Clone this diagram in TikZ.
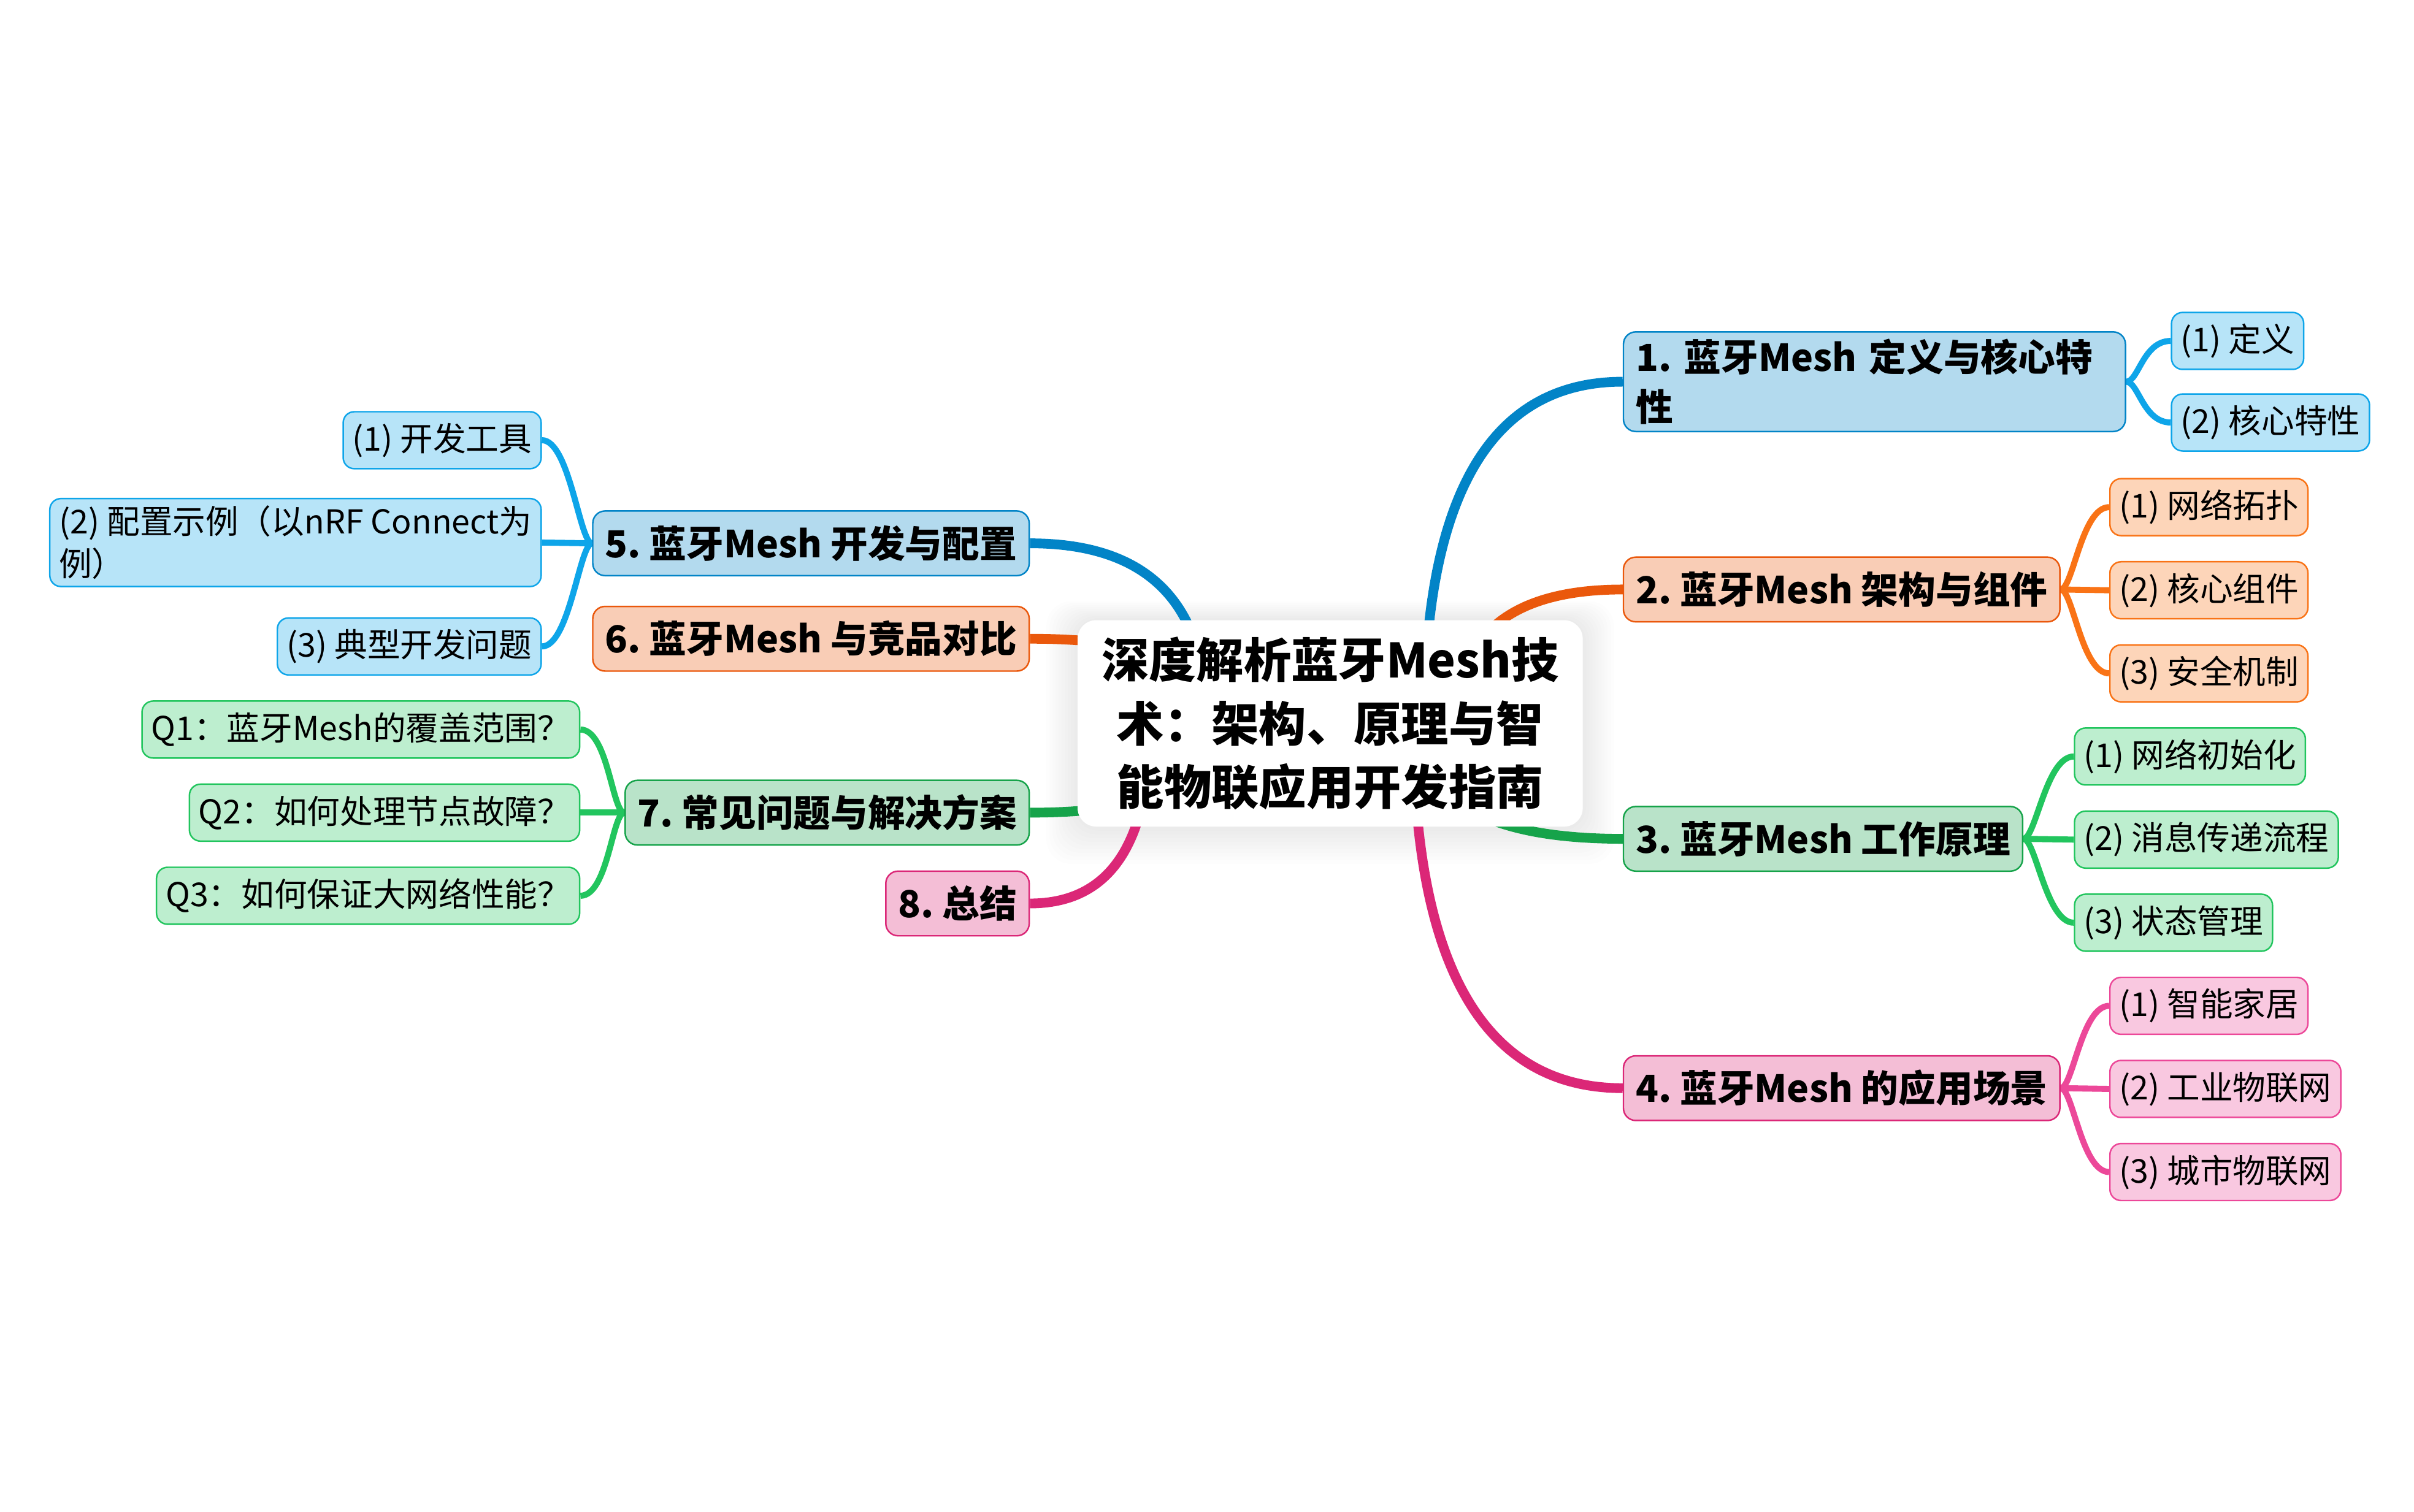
\documentclass[tikz,border=0pt]{standalone}
\usepackage{fontspec}
\setmainfont{Noto Sans CJK SC}
\usepackage{xcolor}
\usepackage{tikz}
\usetikzlibrary{positioning,calc,backgrounds}
\definecolor{sky_dark}{RGB}{2,132,199}
\definecolor{sky_light}{RGB}{14,165,233}
\definecolor{orange_dark}{RGB}{234,88,12}
\definecolor{orange_light}{RGB}{249,115,22}
\definecolor{green_dark}{RGB}{22,163,74}
\definecolor{green_light}{RGB}{34,197,94}
\definecolor{pink_dark}{RGB}{219,39,119}
\definecolor{pink_light}{RGB}{236,72,153}
\frenchspacing

\tikzset{
  rootbox/.style={fill=white, rounded corners=0.3cm, minimum width=8.2cm,
    minimum height=3.35cm, align=center,
    font=\fontsize{21.9}{29.2}\selectfont\bfseries},
  topic/.style={draw=#1, fill=#1!30, line width=0.7pt, rounded corners=0.2cm,
    inner xsep=0.2cm, minimum height=1.05cm, align=left,
    font=\fontsize{17.2}{22.8}\selectfont\bfseries},
  subbox/.style={draw=#1, fill=#1!30, line width=0.7pt, rounded corners=0.18cm,
    inner xsep=0.15cm, minimum height=0.925cm, align=left,
    font=\fontsize{15.2}{19.5}\selectfont},
  trunk/.style={draw=#1, line width=4.5pt},
  twig/.style={draw=#1, line width=2.8pt},
}

\begin{document}
\begin{tikzpicture}[x=0.025cm, y=-0.025cm]
  \useasboundingbox (0,0) rectangle (1568,982);

  % centre
  \node[rootbox] (root) at (864,470)
    {深度解析蓝牙Mesh技\\术：架构、原理与智\\能物联应用开发指南};

  % right side
  \node[topic=sky_dark, anchor=west, text width=7.75cm] (def) at (1054,248) {1. 蓝牙Mesh 定义与核心特\\性};
  \node[subbox=sky_light, anchor=west] (def_a) at (1410,221.5) {(1) 定义};
  \node[subbox=sky_light, anchor=west] (def_b) at (1410,274.5) {(2) 核心特性};

  \node[topic=orange_dark, anchor=west] (arch) at (1054,383) {2. 蓝牙Mesh 架构与组件};
  \node[subbox=orange_light, anchor=west] (arch_a) at (1370,329.5) {(1) 网络拓扑};
  \node[subbox=orange_light, anchor=west] (arch_b) at (1370,383.5) {(2) 核心组件};
  \node[subbox=orange_light, anchor=west] (arch_c) at (1370,437.5) {(3) 安全机制};

  \node[topic=green_dark, anchor=west] (work) at (1054,545) {3. 蓝牙Mesh 工作原理};
  \node[subbox=green_light, anchor=west] (work_a) at (1347,491.5) {(1) 网络初始化};
  \node[subbox=green_light, anchor=west] (work_b) at (1347,545.5) {(2) 消息传递流程};
  \node[subbox=green_light, anchor=west] (work_c) at (1347,599.5) {(3) 状态管理};

  \node[topic=pink_dark, anchor=west] (app) at (1054,707) {4. 蓝牙Mesh 的应用场景};
  \node[subbox=pink_light, anchor=west] (app_a) at (1370,653.5) {(1) 智能家居};
  \node[subbox=pink_light, anchor=west] (app_b) at (1370,707.5) {(2) 工业物联网};
  \node[subbox=pink_light, anchor=west] (app_c) at (1370,761.5) {(3) 城市物联网};

  % left side
  \node[topic=sky_dark, anchor=east] (dev) at (669,353) {5. 蓝牙Mesh 开发与配置};
  \node[subbox=sky_light, anchor=east] (dev_a) at (352,286) {(1) 开发工具};
  \node[subbox=sky_light, anchor=east] (dev_b) at (352,352.5) {(2) 配置示例（以nRF Connect为\\例）};
  \node[subbox=sky_light, anchor=east] (dev_c) at (352,420) {(3) 典型开发问题};

  \node[topic=orange_dark, anchor=east] (cmp) at (669,415) {6. 蓝牙Mesh 与竞品对比};

  \node[topic=green_dark, anchor=east] (faq) at (669,528) {7. 常见问题与解决方案};
  \node[subbox=green_light, anchor=east] (faq_a) at (377,474) {Q1：蓝牙Mesh的覆盖范围？};
  \node[subbox=green_light, anchor=east] (faq_b) at (377,528) {Q2：如何处理节点故障？};
  \node[subbox=green_light, anchor=east] (faq_c) at (377,582) {Q3：如何保证大网络性能？};

  \node[topic=pink_dark, anchor=east] (sum) at (669,587) {8. 总结};

  \begin{scope}[on background layer]
    % soft halo under the centre box
    \foreach \k in {1,...,10}
      \fill[black, opacity=0.008, rounded corners=0.4cm]
        ($(root.south west)+(-2*\k,2.4*\k)$) rectangle ($(root.north east)+(2*\k,-1.2*\k)$);

    % main branches
    \draw[trunk=sky_dark] ($(root.center)+(61,0)$) .. controls +(0,-148) and +(-86,0) .. (def.west);
    \draw[trunk=orange_dark] ($(root.center)+(82,0)$) .. controls +(0,-58) and +(-72,0) .. (arch.west);
    \draw[trunk=green_dark] ($(root.center)+(58,0)$) .. controls +(0,50) and +(-88,0) .. (work.west);
    \draw[trunk=pink_dark] ($(root.center)+(54,0)$) .. controls +(0,158) and +(-90,0) .. (app.west);
    \draw[trunk=sky_dark] ($(root.center)+(-80,0)$) .. controls +(0,-78) and +(77,0) .. (dev.east);
    \draw[trunk=orange_dark] ($(root.center)+(-74,0)$) .. controls +(0,-37) and +(81,0) .. (cmp.east);
    \draw[trunk=green_dark] ($(root.center)+(-74,0)$) .. controls +(0,39) and +(81,0) .. (faq.east);
    \draw[trunk=pink_dark] ($(root.center)+(-117,0)$) .. controls +(0,78) and +(52,0) .. (sum.east);

    % sub branches
    \draw[twig=sky_light] (def.east) .. controls +(8,0) and +(-18,0) .. (def_a.west);
    \draw[twig=sky_light] (def.east) .. controls +(8,0) and +(-18,0) .. (def_b.west);

    \draw[twig=orange_light] (arch.east) .. controls +(8,0) and +(-18,0) .. (arch_a.west);
    \draw[twig=orange_light] (arch.east) -- (arch_b.west);
    \draw[twig=orange_light] (arch.east) .. controls +(8,0) and +(-18,0) .. (arch_c.west);

    \draw[twig=green_light] (work.east) .. controls +(8,0) and +(-18,0) .. (work_a.west);
    \draw[twig=green_light] (work.east) -- (work_b.west);
    \draw[twig=green_light] (work.east) .. controls +(8,0) and +(-18,0) .. (work_c.west);

    \draw[twig=pink_light] (app.east) .. controls +(8,0) and +(-18,0) .. (app_a.west);
    \draw[twig=pink_light] (app.east) -- (app_b.west);
    \draw[twig=pink_light] (app.east) .. controls +(8,0) and +(-18,0) .. (app_c.west);

    \draw[twig=sky_light] (dev.west) .. controls +(-8,0) and +(18,0) .. (dev_a.east);
    \draw[twig=sky_light] (dev.west) -- (dev_b.east);
    \draw[twig=sky_light] (dev.west) .. controls +(-8,0) and +(18,0) .. (dev_c.east);

    \draw[twig=green_light] (faq.west) .. controls +(-8,0) and +(18,0) .. (faq_a.east);
    \draw[twig=green_light] (faq.west) -- (faq_b.east);
    \draw[twig=green_light] (faq.west) .. controls +(-8,0) and +(18,0) .. (faq_c.east);
  \end{scope}
\end{tikzpicture}
\end{document}
